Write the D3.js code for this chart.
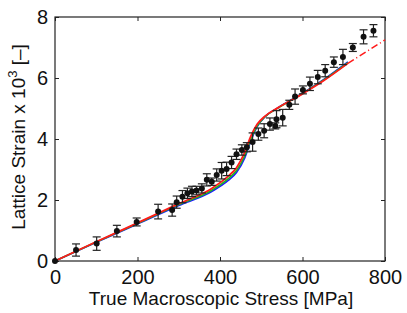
<!DOCTYPE html>
<html lang="en">
<head>
    <meta charset="UTF-8">
    <title>Lattice Strain vs Stress</title>
    <style>
    body { margin: 0; background: #fff; }
    text { font-family: "Liberation Sans", Arial, Helvetica, sans-serif; fill: #111; }
    </style>
    <script src="https://cdn.jsdelivr.net/npm/d3@7"></script>
</head>
<body>
    <svg width="407" height="313"></svg>
    <script>
        // measured points
        var stress = [0, 51, 101, 150, 198, 250, 284, 295, 309, 321, 332, 343, 356, 368, 380, 392, 404, 416, 428, 440,
                      453, 465, 479, 493, 507, 521, 534, 537, 552, 568, 582, 601, 618, 637, 655, 676, 698, 722, 748, 772];
        var strain = [0, 0.36, 0.57, 0.98, 1.28, 1.62, 1.67, 1.93, 2.11, 2.22, 2.28, 2.31, 2.38, 2.66, 2.60, 2.82, 2.96, 3.02, 3.23, 3.50,
                      3.64, 3.73, 3.90, 4.16, 4.27, 4.49, 4.43, 4.65, 4.70, 5.12, 5.39, 5.61, 5.81, 6.03, 6.24, 6.52, 6.69, 7.00, 7.35, 7.55];
        var strainErr = [0, 0.2, 0.22, 0.19, 0.13, 0.24, 0.2, 0.2, 0.2, 0.17, 0.17, 0.14, 0.15, 0.2, 0.12, 0.2, 0.27, 0.22, 0.2, 0.17,
                         0.17, 0.15, 0.3, 0.2, 0.23, 0.2, 0.1, 0.28, 0.27, 0.15, 0.25, 0.13, 0.22, 0.22, 0.2, 0.17, 0.25, 0.13, 0.23, 0.2];

        // model curves
        var modelStress = [0, 100, 200, 300, 380, 420, 440, 460, 475, 490, 510, 540, 600, 650, 710];
        var modelRed    = [0, 0.63, 1.25, 1.88, 2.38, 2.78, 3.06, 3.56, 4.10, 4.48, 4.76, 5.02, 5.48, 5.90, 6.48];
        var modelGreen  = [0, 0.62, 1.23, 1.85, 2.32, 2.70, 2.97, 3.45, 4.00, 4.42, 4.74, 5.01, 5.49, 5.92, 6.50];
        var modelBlue   = [0, 0.61, 1.21, 1.82, 2.28, 2.64, 2.90, 3.38, 3.95, 4.40, 4.74, 5.02, 5.50, 5.94, 6.53];
        var extStress = [710, 800];
        var extRed    = [6.48, 7.25];

        var xTicks = [0, 200, 400, 600, 800];
        var yTicks = [0, 2, 4, 6, 8];

        var svg = d3.select("svg");
        var x = d3.scaleLinear().domain([0, 800]).range([55, 385]);
        var y = d3.scaleLinear().domain([0, 8]).range([261, 17]);

        // frame
        svg.append("rect")
            .attr("x", 55).attr("y", 17).attr("width", 330).attr("height", 244)
            .attr("fill", "none").attr("stroke", "#222").attr("stroke-width", 1.2);

        var gx = svg.append("g").attr("transform", "translate(0,261)")
            .call(d3.axisBottom(x).tickValues(xTicks).tickSizeInner(-4).tickSizeOuter(0).tickPadding(9));
        var gxt = svg.append("g").attr("transform", "translate(0,17)")
            .call(d3.axisTop(x).tickValues(xTicks).tickSizeInner(-4).tickSizeOuter(0).tickFormat(""));
        var gy = svg.append("g").attr("transform", "translate(55,0)")
            .call(d3.axisLeft(y).tickValues(yTicks).tickSizeInner(-4).tickSizeOuter(0).tickPadding(7));
        var gyr = svg.append("g").attr("transform", "translate(385,0)")
            .call(d3.axisRight(y).tickValues(yTicks).tickSizeInner(-4).tickSizeOuter(0).tickFormat(""));
        [gx, gxt, gy, gyr].forEach(function(g) {
            g.select(".domain").remove();
            g.selectAll("line").attr("stroke", "#222");
            g.selectAll("text").style("font-size", "20px").attr("fill", "#111");
        });

        var line = d3.line().x(function(d) { return x(d[0]); }).y(function(d) { return y(d[1]); })
            .curve(d3.curveMonotoneX);

        function series(xs, ys) { return xs.map(function(v, i) { return [v, ys[i]]; }); }

        svg.append("path").datum(series(modelStress, modelBlue)).attr("d", line)
            .attr("fill", "none").attr("stroke", "#1a1aff").attr("stroke-width", 1.6);
        svg.append("path").datum(series(modelStress, modelGreen)).attr("d", line)
            .attr("fill", "none").attr("stroke", "#1db81d").attr("stroke-width", 1.6);
        svg.append("path").datum(series(modelStress, modelRed)).attr("d", line)
            .attr("fill", "none").attr("stroke", "#ff1a1a").attr("stroke-width", 1.8);
        svg.append("path").datum(series(extStress, extRed)).attr("d", line)
            .attr("fill", "none").attr("stroke", "#ff1a1a").attr("stroke-width", 1.5)
            .attr("stroke-dasharray", "7,3,1,3");

        // error bars + points
        var pts = stress.map(function(s, i) { return { s: s, e: strain[i], err: strainErr[i] }; });
        var eb = svg.append("g").attr("stroke", "#222").attr("stroke-width", 1.2);
        pts.filter(function(d) { return d.err > 0; }).forEach(function(d) {
            var cx = x(d.s), y0 = y(d.e - d.err), y1 = y(d.e + d.err);
            eb.append("line").attr("x1", cx).attr("x2", cx).attr("y1", y0).attr("y2", y1);
            eb.append("line").attr("x1", cx - 4).attr("x2", cx + 4).attr("y1", y0).attr("y2", y0);
            eb.append("line").attr("x1", cx - 4).attr("x2", cx + 4).attr("y1", y1).attr("y2", y1);
        });
        svg.append("g").selectAll("circle").data(pts).join("circle")
            .attr("cx", function(d) { return x(d.s); })
            .attr("cy", function(d) { return y(d.e); })
            .attr("r", 3).attr("fill", "#111");

        // labels
        svg.append("text").attr("x", 221).attr("y", 305).attr("text-anchor", "middle")
            .style("font-size", "19px").text("True Macroscopic Stress [MPa]");
        var yl = svg.append("text").attr("transform", "translate(25,137) rotate(-90)")
            .attr("text-anchor", "middle").style("font-size", "19px");
        yl.append("tspan").text("Lattice Strain x 10");
        yl.append("tspan").attr("dy", -8).style("font-size", "13px").text("3");
        yl.append("tspan").attr("dy", 8).text(" [\u2013]");
    </script>
</body>
</html>
